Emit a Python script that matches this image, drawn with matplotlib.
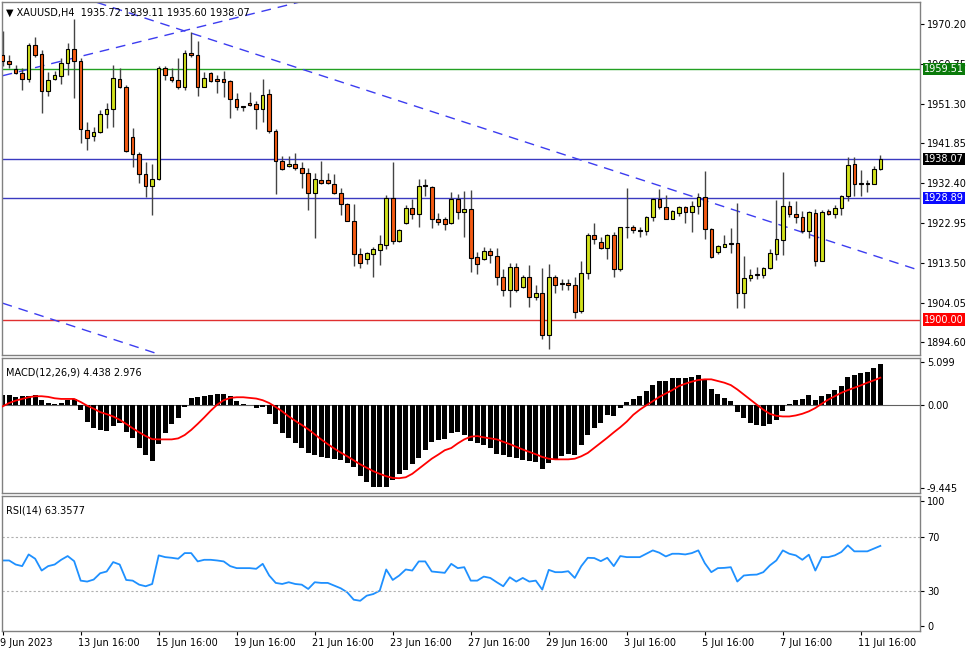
#!/usr/bin/env python3
"""XAUUSD H4 chart with MACD and RSI panels, MT4 style."""

import matplotlib

matplotlib.use("Agg")
import matplotlib.pyplot as plt
import matplotlib.transforms as mtransforms
import numpy as np

# --- price data (H4 candles) ---
opens = [1962.8, 1961.4, 1959.5, 1958.5, 1957.1, 1965.1, 1963.0, 1954.3, 1957.1, 1957.8,
         1961.0, 1964.2, 1961.4, 1944.9, 1943.7, 1944.5, 1948.8, 1949.9, 1957.1, 1955.3,
         1943.3, 1939.2, 1934.6, 1931.8, 1933.3, 1959.7, 1957.5, 1956.9, 1955.3, 1963.4,
         1962.7, 1955.3, 1958.5, 1957.1, 1957.1, 1956.7, 1952.3, 1950.6, 1951.4, 1951.1,
         1949.9, 1953.5, 1944.8, 1937.7, 1936.5, 1936.9, 1935.9, 1934.7, 1930.0, 1933.2,
         1933.2, 1932.2, 1930.0, 1927.4, 1923.5, 1915.6, 1914.3, 1915.6, 1916.5, 1917.7,
         1928.8, 1918.7, 1923.0, 1926.4, 1925.1, 1932.0, 1931.4, 1923.8, 1923.8, 1922.9,
         1928.6, 1925.6, 1926.3, 1914.8, 1914.3, 1916.3, 1915.2, 1910.0, 1907.0, 1912.4,
         1907.7, 1910.0, 1905.4, 1906.2, 1896.3, 1910.2, 1908.6, 1908.6, 1908.2, 1902.1,
         1911.0, 1920.1, 1918.5, 1917.1, 1920.1, 1911.9, 1922.1, 1922.1, 1921.3, 1921.1,
         1924.3, 1928.6, 1926.8, 1924.0, 1925.4, 1926.8, 1925.6, 1927.0, 1929.2, 1921.5,
         1916.1, 1917.3, 1918.1, 1918.1, 1906.4, 1909.8, 1910.6, 1910.6, 1912.2, 1915.6,
         1918.9, 1927.0, 1925.1, 1924.3, 1921.1, 1925.2, 1914.0, 1925.9, 1925.1, 1926.4,
         1929.3, 1936.9, 1932.5, 1932.5, 1932.2, 1935.72]
highs = [1968.4, 1962.8, 1960.5, 1959.7, 1965.6, 1967.0, 1964.0, 1958.9, 1959.0, 1962.0,
         1965.6, 1971.3, 1962.0, 1947.0, 1945.8, 1949.8, 1951.5, 1960.5, 1959.7, 1955.7,
         1945.4, 1939.9, 1937.5, 1936.9, 1960.2, 1960.3, 1959.7, 1962.0, 1964.0, 1968.2,
         1966.2, 1958.9, 1958.9, 1958.1, 1959.0, 1956.9, 1953.7, 1950.7, 1954.1, 1951.8,
         1957.1, 1954.7, 1945.2, 1938.8, 1938.8, 1939.6, 1937.5, 1935.9, 1934.9, 1937.7,
         1934.9, 1934.5, 1931.2, 1927.6, 1927.4, 1916.9, 1916.1, 1917.3, 1920.1, 1929.7,
         1937.5, 1921.4, 1927.2, 1928.6, 1933.5, 1933.4, 1931.7, 1925.2, 1924.4, 1930.4,
         1929.8, 1930.6, 1930.8, 1916.0, 1917.2, 1916.9, 1916.9, 1911.9, 1913.5, 1913.5,
         1910.6, 1913.0, 1908.2, 1912.3, 1913.1, 1910.7, 1909.6, 1909.6, 1910.2, 1913.9,
         1920.6, 1922.9, 1919.7, 1920.3, 1920.9, 1922.1, 1931.2, 1922.5, 1922.1, 1924.6,
         1928.8, 1930.9, 1929.6, 1926.0, 1927.0, 1927.0, 1928.2, 1930.1, 1935.3, 1921.7,
         1917.7, 1920.1, 1921.7, 1927.8, 1915.1, 1911.9, 1912.6, 1912.6, 1916.7, 1928.4,
         1935.1, 1928.2, 1928.2, 1925.9, 1925.9, 1926.2, 1926.0, 1926.2, 1927.1, 1929.6,
         1938.7, 1938.7, 1935.5, 1933.1, 1936.5, 1939.11]
lows = [1960.1, 1959.7, 1958.3, 1954.4, 1956.5, 1962.4, 1949.1, 1953.1, 1956.9, 1955.9,
        1958.1, 1952.7, 1942.0, 1940.3, 1942.3, 1944.2, 1945.4, 1945.8, 1954.9, 1939.9,
        1936.3, 1932.4, 1929.0, 1924.8, 1933.2, 1956.9, 1956.5, 1954.7, 1954.5, 1962.4,
        1953.2, 1955.2, 1956.3, 1953.9, 1952.9, 1947.8, 1949.8, 1949.6, 1950.6, 1945.2,
        1947.0, 1944.2, 1929.8, 1935.5, 1936.3, 1935.5, 1931.2, 1926.0, 1919.3, 1932.1,
        1932.1, 1929.8, 1924.8, 1923.3, 1912.7, 1912.2, 1913.2, 1910.0, 1913.0, 1916.7,
        1917.9, 1918.5, 1922.7, 1924.0, 1922.1, 1929.3, 1921.7, 1922.5, 1921.3, 1922.6,
        1924.0, 1919.7, 1911.4, 1910.8, 1914.2, 1913.5, 1908.2, 1905.6, 1902.9, 1906.6,
        1907.4, 1902.9, 1904.6, 1895.5, 1893.0, 1906.2, 1907.0, 1907.0, 1900.5, 1901.5,
        1909.6, 1917.9, 1916.7, 1914.5, 1910.0, 1911.6, 1919.3, 1920.6, 1919.7, 1920.1,
        1923.3, 1926.2, 1923.9, 1923.8, 1924.6, 1923.0, 1920.9, 1925.0, 1919.1, 1914.6,
        1915.6, 1917.2, 1915.9, 1902.7, 1902.7, 1909.2, 1909.6, 1909.8, 1911.9, 1914.1,
        1915.3, 1924.4, 1922.9, 1920.6, 1919.3, 1912.7, 1914.0, 1924.8, 1924.1, 1924.8,
        1928.2, 1929.3, 1929.3, 1930.4, 1932.1, 1935.60]
closes = [1961.3, 1960.6, 1958.6, 1957.1, 1965.1, 1962.8, 1954.3, 1956.9, 1958.1, 1961.0,
          1964.2, 1961.4, 1945.2, 1943.0, 1944.6, 1948.8, 1949.9, 1957.3, 1955.2, 1940.1,
          1939.3, 1934.6, 1931.8, 1933.5, 1959.8, 1958.1, 1956.9, 1955.3, 1963.4, 1962.7,
          1955.3, 1957.3, 1956.7, 1956.7, 1956.5, 1952.3, 1950.4, 1950.4, 1951.0, 1950.0,
          1953.3, 1944.8, 1937.7, 1935.7, 1936.9, 1935.9, 1934.7, 1930.0, 1933.4, 1932.4,
          1932.4, 1930.0, 1927.4, 1923.5, 1915.6, 1913.4, 1915.7, 1916.7, 1917.9, 1928.8,
          1918.7, 1921.3, 1926.4, 1925.1, 1931.8, 1931.7, 1923.8, 1923.1, 1922.6, 1928.6,
          1925.6, 1926.3, 1914.7, 1913.2, 1916.3, 1915.3, 1910.0, 1907.0, 1912.4, 1907.0,
          1910.0, 1905.4, 1906.2, 1896.3, 1910.2, 1908.2, 1908.4, 1908.2, 1901.9, 1911.0,
          1920.1, 1919.1, 1917.1, 1920.1, 1911.9, 1921.9, 1921.9, 1921.3, 1921.1, 1924.3,
          1928.6, 1926.8, 1924.0, 1925.9, 1926.8, 1925.6, 1927.0, 1929.2, 1921.5, 1914.8,
          1917.5, 1917.9, 1917.9, 1906.4, 1909.9, 1910.7, 1910.8, 1912.2, 1915.7, 1919.1,
          1927.0, 1925.1, 1924.3, 1921.1, 1925.5, 1914.0, 1925.6, 1925.1, 1926.4, 1929.4,
          1936.7, 1932.1, 1932.2, 1932.3, 1935.8, 1938.07]

# --- indicators ---
macd_hist = [1.16, 1.09, 0.91, 0.98, 1.05, 1.16, 0.55, 0.25, 0.18, 0.25,
             0.62, 0.69, -0.55, -1.75, -2.47, -2.65, -2.76, -2.22, -1.93, -2.91,
             -3.56, -4.58, -5.38, -6.0, -4.18, -2.95, -2.0, -1.38, -0.18, 0.80,
             0.87, 0.98, 1.09, 1.27, 1.27, 0.98, 0.51, 0.18, 0.0, -0.29,
             -0.22, -0.95, -2.0, -2.95, -3.56, -4.11, -4.58, -5.13, -5.38, -5.56,
             -5.64, -5.75, -5.93, -6.18, -6.65, -7.56, -8.29, -8.76, -8.84, -8.84,
             -8.04, -7.45, -7.02, -6.29, -5.64, -4.84, -3.93, -3.75, -3.67, -3.02,
             -2.84, -3.2, -3.82, -4.04, -4.29, -4.65, -5.27, -5.31, -5.56, -5.67,
             -5.85, -6.0, -6.11, -6.84, -6.22, -5.75, -5.49, -5.2, -5.31, -4.29,
             -3.2, -2.47, -1.85, -1.09, -1.2, -0.29, 0.33, 0.73, 1.05, 1.53,
             2.18, 2.62, 2.62, 2.91, 2.98, 2.98, 3.05, 3.24, 2.69, 1.78,
             1.24, 0.80, 0.44, -0.73, -1.38, -1.85, -2.11, -2.22, -2.0, -1.56,
             -0.58, 0.18, 0.62, 0.73, 1.09, 0.55, 0.98, 1.27, 1.6, 2.07,
             3.05, 3.27, 3.45, 3.64, 4.0, 4.438]
macd_signal = [-0.11, 0.25, 0.51, 0.69, 0.87, 0.98, 0.98, 0.91, 0.76, 0.69,
               0.69, 0.69, 0.36, -0.04, -0.36, -0.73, -0.95, -1.2, -1.56, -2.0,
               -2.47, -2.91, -3.31, -3.64, -3.67, -3.67, -3.67, -3.56, -3.2, -2.65,
               -2.0, -1.31, -0.58, 0.07, 0.55, 0.80, 0.87, 0.87, 0.80, 0.73,
               0.55, 0.25, -0.18, -0.65, -1.2, -1.67, -2.11, -2.58, -3.13, -3.67,
               -4.18, -4.65, -5.09, -5.49, -5.93, -6.36, -6.73, -7.09, -7.38, -7.64,
               -7.82, -7.85, -7.75, -7.38, -6.84, -6.29, -5.75, -5.31, -4.84, -4.6,
               -4.1, -3.67, -3.38, -3.31, -3.45, -3.56, -3.67, -3.93, -4.18, -4.47,
               -4.76, -5.02, -5.27, -5.56, -5.75, -5.82, -5.82, -5.82, -5.75, -5.49,
               -5.13, -4.58, -4.04, -3.49, -2.91, -2.36, -1.75, -1.02, -0.47, 0.0,
               0.44, 0.91, 1.27, 1.64, 2.07, 2.33, 2.55, 2.73, 2.8, 2.8,
               2.62, 2.44, 2.18, 1.71, 1.16, 0.62, 0.07, -0.47, -0.91, -1.13,
               -1.2, -1.2, -1.09, -0.91, -0.65, -0.29, 0.18, 0.62, 0.98, 1.35,
               1.64, 1.89, 2.15, 2.44, 2.69, 2.976]
rsi = [52.5, 52.5, 49.5, 48.3, 57, 53.8, 45, 48.3, 49.5, 53,
       55.8, 52, 37.5, 36.8, 38.3, 43, 44.3, 51.3, 49.5, 38,
       37.5, 34.5, 33.3, 35, 56.3, 55, 54.5, 53.8, 58, 58,
       51.8, 53, 53, 52.5, 51.8, 48.3, 46.8, 46.8, 46.8, 46.3,
       50, 41.3, 35.8, 35, 36.3, 35, 34.5, 31.3, 36.3, 35.8,
       35.8, 33.8, 31.8, 28.8, 23.3, 22.5, 26.3, 27.5, 30, 45.8,
       38, 41.3, 45.8, 45, 51.8, 51.8, 44.3, 43.8, 43.3, 50,
       46.8, 47.5, 37.5, 37.5, 40.5, 39.5, 36.3, 33.3, 40, 36.8,
       39.5, 36.8, 37.5, 30.8, 45.5, 43.8, 43.8, 44.5, 39.5, 48.3,
       54.5, 54.3, 52, 54.5, 48.3, 55.8, 55, 55, 55, 57.5,
       60, 58.3, 55.5, 57.5, 57.5, 57, 58, 60, 50.5, 43.8,
       46.8, 47, 47.5, 36.8, 41.3, 41.8, 42, 43.8, 48.8, 52.5,
       60, 57.5, 56.3, 53, 56.8, 45, 55, 55, 56.3, 58.8,
       63.8, 59.3, 59.3, 59.3, 61.3, 63.3577]

# horizontal levels and trend lines (bar index, price)
levels = [1959.51, 1938.07, 1928.89, 1900.00]
level_colors = ["#22a022", "#3a3ac0", "#3a3ac0", "#e03030"]
level_box_colors = ["#0a7a0a", "#000000", "#0a0aff", "#ff0000"]
trend_lines = [
    [(0, 1957.9), (45.7, 1975.4)],
    [(14.5, 1975.3), (141.6, 1911.4)],
    [(0, 1903.9), (24.2, 1891.7)],
]

price_ticks = [1970.20, 1960.75, 1951.30, 1941.85, 1932.40, 1922.95, 1913.50, 1904.05, 1894.60]
macd_labels = ["5.099", "0.00", "-9.445"]
rsi_labels = ["100", "70", "30", "0"]
time_tick_bars = [0, 12, 24, 36, 48, 60, 72, 84, 96, 108, 120, 132]
time_tick_labels = ["9 Jun 2023", "13 Jun 16:00", "15 Jun 16:00", "19 Jun 16:00",
                    "21 Jun 16:00", "23 Jun 16:00", "27 Jun 16:00", "29 Jun 16:00",
                    "3 Jul 16:00", "5 Jul 16:00", "7 Jul 16:00", "11 Jul 16:00"]

BULL = "#d2e21c"
BEAR = "#f45a12"
FS = 7
W, H = 975, 650

fig = plt.figure(figsize=(9.75, 6.5), dpi=100)
fig.patch.set_facecolor("white")


def panel(top, bottom):
    return fig.add_axes([2 / W, 1 - bottom / H, 918 / W, (bottom - top) / H])


ax = panel(2, 355)
axm = panel(358, 493)
axr = panel(496, 631)

x = np.arange(len(closes))
o = np.array(opens)
c = np.array(closes)
xlim = (-0.1, 141.1)

for a in (ax, axm, axr):
    a.set_xlim(*xlim)
    a.yaxis.tick_right()
    a.set_xticks([])
    for s in a.spines.values():
        s.set_color("#808080")
        s.set_linewidth(1.0)
    a.tick_params(axis="y", labelsize=FS, length=3, width=0.8, pad=2, colors="black")

# candles
ax.vlines(x, lows, highs, color="#444444", linewidth=1.0, zorder=2)
colors = [BULL if cc >= oo else BEAR for oo, cc in zip(o, c)]
bottoms = np.minimum(o, c)
heights = np.maximum(np.abs(c - o), 0.12)
ax.bar(x, heights, bottom=bottoms, width=0.55, color=colors, edgecolor="black",
       linewidth=0.8, zorder=3)

for lv, col in zip(levels, level_colors):
    ax.axhline(lv, color=col, linewidth=1.0, zorder=1)
for (x0, y0), (x1, y1) in trend_lines:
    ax.plot([x0, x1], [y0, y1], color="#3c3cf0", linewidth=1.0, dashes=(7, 5), zorder=1)

ax.set_ylim(1891.6, 1975.4)
ax.set_yticks(price_ticks)
ax.set_yticklabels([f"{t:.2f}" for t in price_ticks])
tr = mtransforms.blended_transform_factory(ax.transAxes, ax.transData)
for lv, bc in zip(levels, level_box_colors):
    ax.text(1.004, lv, f"{lv:.2f}", transform=tr, ha="left", va="center", fontsize=FS,
            color="white", zorder=5, clip_on=False,
            bbox={"boxstyle": "square,pad=0.12", "facecolor": bc, "edgecolor": "none"})
ax.text(0.004, 0.985, "\u25bc XAUUSD,H4  1935.72 1939.11 1935.60 1938.07", transform=ax.transAxes,
        ha="left", va="top", fontsize=FS, color="black")

# MACD
axm.bar(x, macd_hist, width=0.75, color="black", zorder=2)
axm.plot(x, macd_signal, color="#ff0000", linewidth=1.3, zorder=3)
axm.axhline(0, color="#606060", linewidth=0.8, zorder=1)
axm.set_ylim(-9.445, 5.099)
# labels sit just inside the panel edges, as in the terminal
axm.set_yticks([4.7, 0.0, -8.9])
axm.set_yticklabels(macd_labels)
axm.text(0.004, 0.93, "MACD(12,26,9) 4.438 2.976", transform=axm.transAxes,
         ha="left", va="top", fontsize=FS, color="black")

# RSI
axr.plot(x, rsi, color="#1e90ff", linewidth=1.3)
for lv in (70, 30):
    axr.axhline(lv, color="#b0b0b0", linewidth=0.8, linestyle=(0, (2, 2)))
axr.set_ylim(0, 100.5)
axr.set_yticks([96.5, 70, 30, 4])
axr.set_yticklabels(rsi_labels)
axr.text(0.004, 0.93, "RSI(14) 63.3577", transform=axr.transAxes,
         ha="left", va="top", fontsize=FS, color="black")

# time axis
axr.set_xticks(time_tick_bars)
axr.set_xticklabels(time_tick_labels, ha="left")
axr.tick_params(axis="x", labelsize=FS, length=3, width=0.8, pad=2, direction="out")
offset = mtransforms.ScaledTranslation(-2 / 72, 0, fig.dpi_scale_trans)
for lab in axr.get_xticklabels():
    lab.set_transform(lab.get_transform() + offset)

fig.savefig("out.png", dpi=100, facecolor="white")
